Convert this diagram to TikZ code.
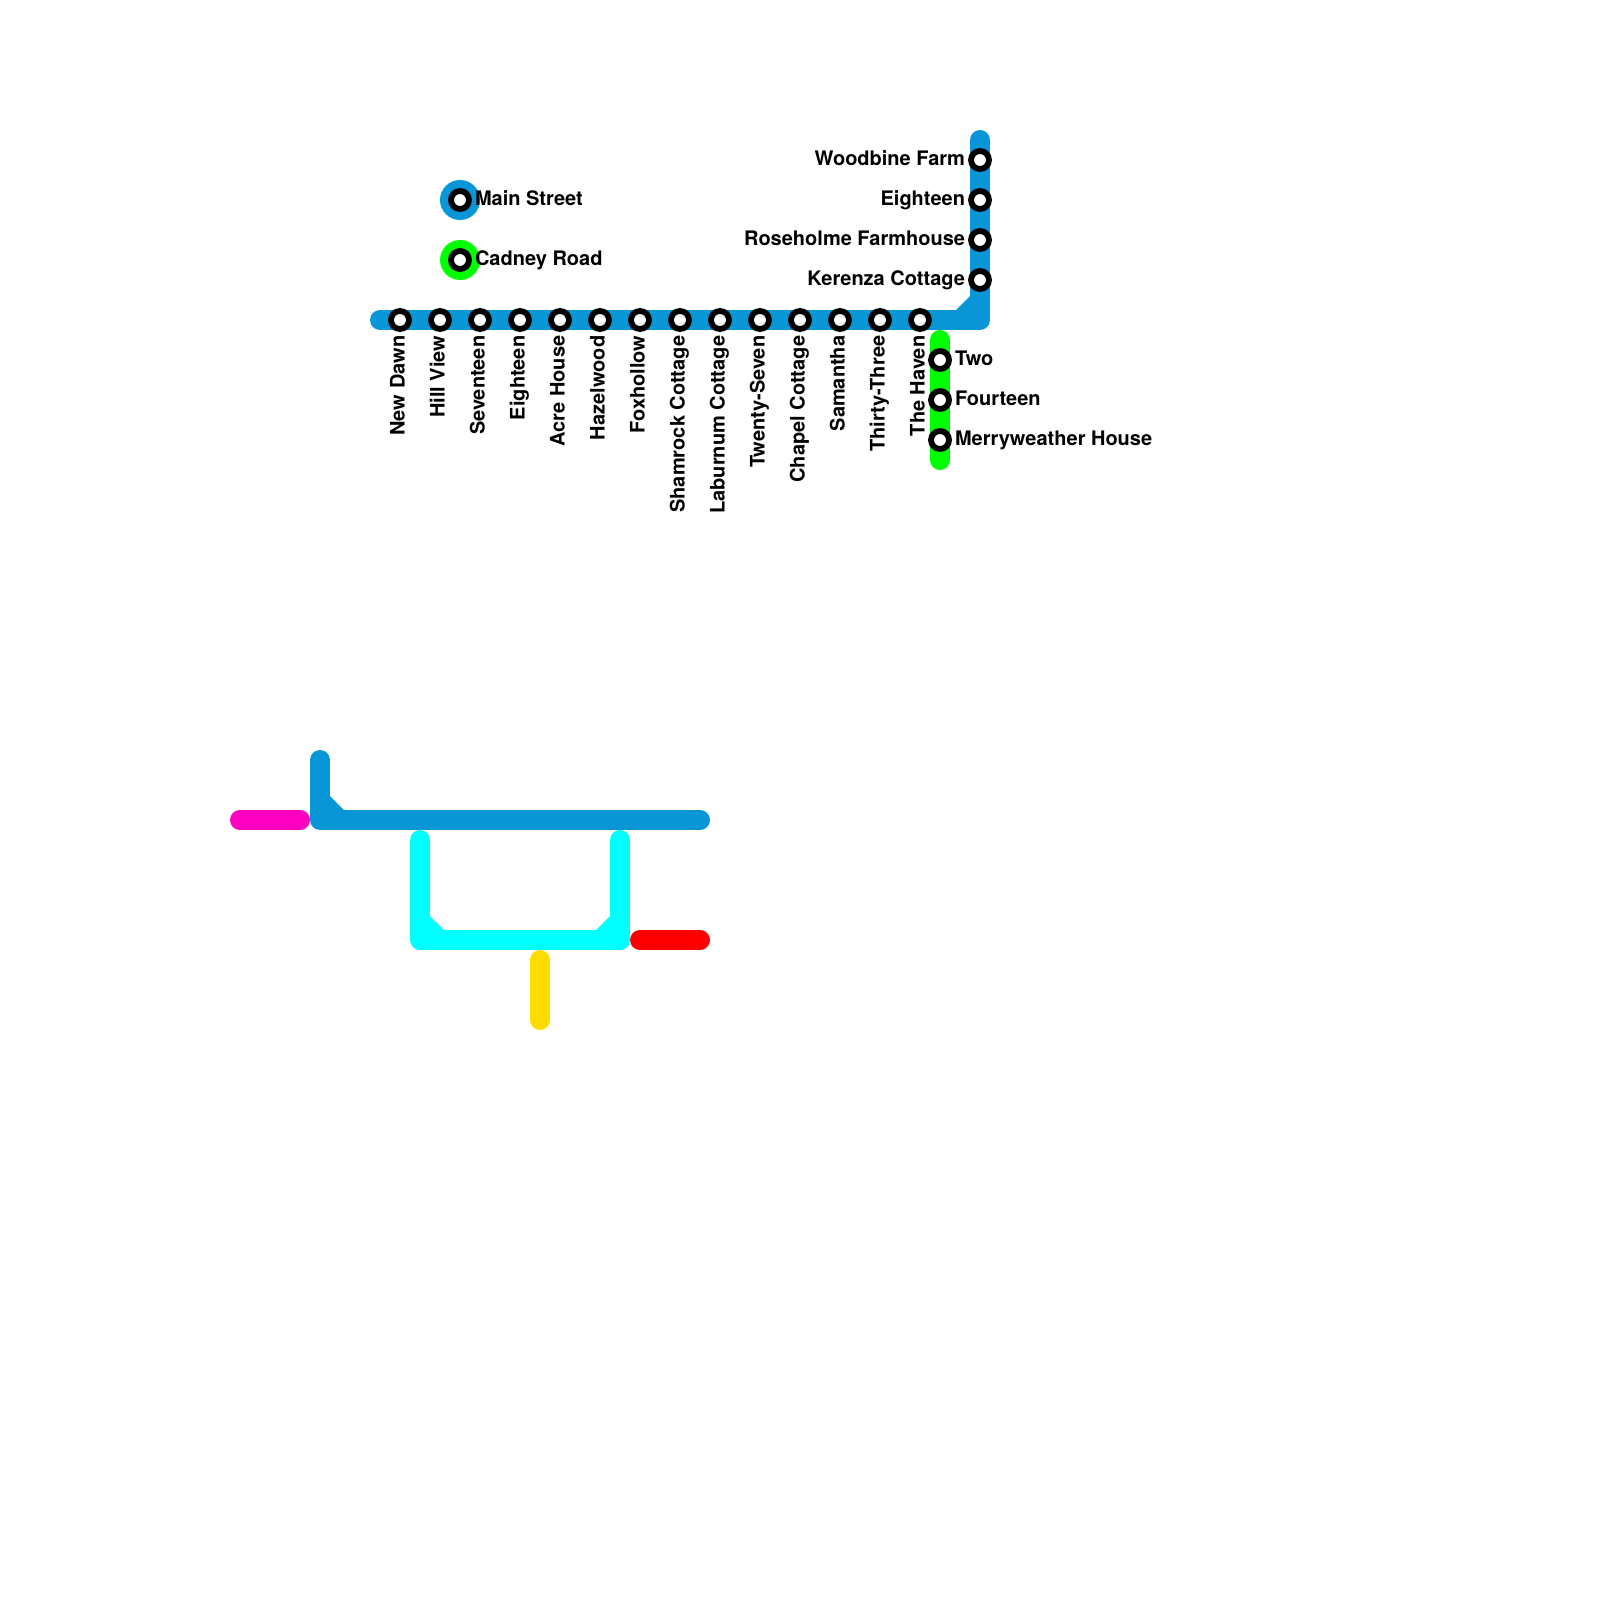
\documentclass[tikz,border=0pt]{standalone}
\usepackage{fontspec}
\setmainfont{TeX Gyre Heros}
\definecolor{lblue}{HTML}{0896D7}
\definecolor{lgreen}{HTML}{00FF00}
\definecolor{lcyan}{HTML}{00FFFF}
\definecolor{lpink}{HTML}{FF00C0}
\definecolor{lred}{HTML}{FF0000}
\definecolor{lyellow}{HTML}{FFDC00}
\tikzset{
  railline/.style={line width=0.2cm,line cap=round,line join=round,draw=#1},
  cornerfill/.style={fill=#1,draw=none},
  stn/.style={circle,draw=black,fill=white,line width=0.058cm,minimum size=0.18cm,inner sep=0pt,outer sep=0pt},
  lab/.style={inner sep=0pt,outer sep=0pt,font=\fontsize{5.69pt}{6pt}\selectfont\bfseries},
  labR/.style={lab,anchor=base west},
  labL/.style={lab,anchor=base east},
  labV/.style={lab,anchor=base east,rotate=90}
}
\begin{document}
\begin{tikzpicture}[x=0.01cm,y=-0.01cm]
\useasboundingbox (0,0) rectangle (1600,1600);
% free ends and corners
\coordinate (a1) at (380,320); \coordinate (a2) at (980,320); \coordinate (a3) at (980,140);
\coordinate (g1) at (940,340); \coordinate (g2) at (940,460);
\coordinate (b1) at (320,760); \coordinate (b2) at (320,820); \coordinate (b3) at (700,820);
\coordinate (p1) at (240,820); \coordinate (p2) at (300,820);
\coordinate (c1) at (420,840); \coordinate (c2) at (420,940); \coordinate (c3) at (620,940); \coordinate (c4) at (620,840);
\coordinate (r1) at (640,940); \coordinate (r2) at (700,940);
\coordinate (y1) at (540,960); \coordinate (y2) at (540,1020);
% lines
\draw[railline=lblue] (a1) -- (a2) -- (a3);
\fill[cornerfill=lblue] (956,310) -- (970,296) -- (970,311) -- (956,311) -- cycle;
\draw[railline=lgreen] (g1) -- (g2);
\draw[railline=lblue] (b1) -- (b2) -- (b3);
\fill[cornerfill=lblue] (330,796) -- (344,810) -- (344,811) -- (330,811) -- cycle;
\draw[railline=lpink] (p1) -- (p2);
\draw[railline=lcyan] (c1) -- (c2) -- (c3) -- (c4);
\fill[cornerfill=lcyan] (430,916) -- (444,930) -- (444,931) -- (430,931) -- cycle;
\fill[cornerfill=lcyan] (610,916) -- (596,930) -- (596,931) -- (610,931) -- cycle;
\draw[railline=lred] (r1) -- (r2);
\draw[railline=lyellow] (y1) -- (y2);
% interchange discs
\fill[lblue] (460,200) circle (20);
\fill[lgreen] (460,260) circle (20);
% stations
\foreach \n/\x/\y in {h1/400/320,h2/440/320,h3/480/320,h4/520/320,h5/560/320,h6/600/320,h7/640/320,h8/680/320,h9/720/320,h10/760/320,h11/800/320,h12/840/320,h13/880/320,h14/920/320,v1/980/160,v2/980/200,v3/980/240,v4/980/280,w1/940/360,w2/940/400,w3/940/440,m1/460/200,m2/460/260}
  \node[stn] (\n) at (\x,\y) {};
% labels
\foreach \n/\x/\t in {1/404.5/New Dawn,2/444.5/Hill View,3/484.5/Seventeen,4/524.5/Eighteen,5/564.5/Acre House,6/604.5/Hazelwood,7/644.5/Foxhollow,8/684.5/Shamrock Cottage,9/724.5/Laburnum Cottage,10/764.5/Twenty-Seven,11/804.5/Chapel Cottage,12/844.5/Samantha,13/884.5/Thirty-Three,14/924.5/The Haven}
  \node[labV] (lh\n) at (\x,335.7) {\t};
\foreach \n/\y/\t in {1/165.3/Woodbine Farm,2/205.3/Eighteen,3/245.3/Roseholme Farmhouse,4/285.3/Kerenza Cottage}
  \node[labL] (lv\n) at (965,\y) {\t};
\foreach \n/\y/\t in {1/365.3/Two,2/405.3/Fourteen,3/445.3/Merryweather House}
  \node[labR] (lw\n) at (955,\y) {\t};
\node[labR] (lm1) at (475,205.3) {Main Street};
\node[labR] (lm2) at (475,265.3) {Cadney Road};
\end{tikzpicture}
\end{document}
